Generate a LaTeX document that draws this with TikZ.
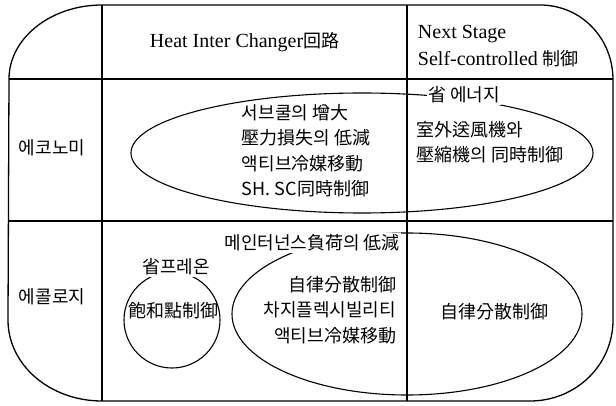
\documentclass[tikz,border=0pt]{standalone}
\usepackage{fontspec}
\setmainfont{Liberation Serif}
\newfontfamily\kr{Noto Sans CJK KR}
\begin{document}
\begin{tikzpicture}[x=1pt,y=-1pt,line width=1.3pt,line join=round,
  cj/.style={font=\kr\fontsize{18}{25.5}\selectfont},
  lat/.style={font=\fontsize{20}{27}\selectfont},
  gap/.style={fill=white,inner sep=1.5pt},
  shapeline/.style={line width=1.1pt}]
\useasboundingbox (0,0) rectangle (616,406);
% outer frame
\draw (9,79) .. controls (9,38) and (51,5) .. (102,5) -- (540,5)
  .. controls (581,5) and (613,38) .. (613,80) -- (613,320)
  .. controls (613,365) and (576,401) .. (530,401) -- (102,401)
  .. controls (50,401) and (8,365) .. (8,320) -- cycle;
% table lines
\coordinate (c1t) at (102,5); \coordinate (c1b) at (102,401);
\coordinate (c2t) at (407,5); \coordinate (c2b) at (407,401);
\coordinate (h1l) at (9,79);  \coordinate (h1r) at (613,79);
\coordinate (h2l) at (8,221); \coordinate (h2r) at (613,221);
\draw (c1t) -- (c1b);
\draw (c2t) -- (c2b);
\draw (h1l) -- (h1r);
\draw (h2l) -- (h2r);
% shapes
\draw[shapeline] (362,153) ellipse [x radius=231pt, y radius=60pt];
\draw[shapeline] (407,314) ellipse [x radius=175pt, y radius=81pt];
\draw[shapeline] (172,320) circle [radius=48pt];
% header
\node[lat,anchor=west] (hic) at (146,42) {Heat Inter Changer{\kr\fontsize{18}{27}\selectfont 回路}};
\node[lat,align=left,anchor=west] (ns) at (414,46) {Next Stage\\Self-controlled {\kr\fontsize{18}{27}\selectfont 制御}};
% row labels
\node[cj] (eco) at (52,148) {에코노미};
\node[cj] (ecol) at (52,297) {에콜로지};
% upper row
\node[cj,align=left,anchor=north west] (up1) at (238,100) {서브쿨의 增大\\壓力損失의 低減\\액티브冷媒移動\\SH. SC同時制御};
\node[cj,gap,anchor=west] (save) at (426,95) {省 에너지};
\node[cj,align=left,anchor=west] (up2) at (413,142) {室外送風機와\\壓縮機의 同時制御};
% lower row
\node[cj,gap,anchor=east] (maint) at (402,243) {메인터넌스負荷의 低減};
\node[cj,gap] (freon) at (176,267) {省프레온};
\node[cj] (sat) at (173,311) {飽和點制御};
\node[cj,align=right,anchor=east] (low1) at (400,310) {自律分散制御\\차지플렉시빌리티\\액티브冷媒移動};
\node[cj] (low2) at (494,312) {自律分散制御};
\end{tikzpicture}
\end{document}
